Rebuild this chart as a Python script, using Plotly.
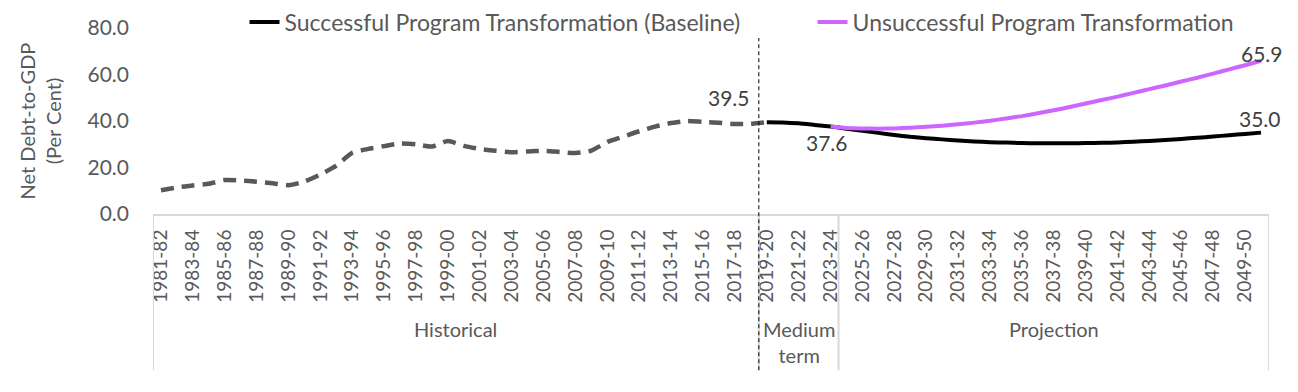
import plotly.graph_objects as go

# ---------------- data ----------------
start_years = list(range(1981, 2051))
categories = [f"{y}-{str(y + 1)[-2:]}" for y in start_years]  # 1981-82 .. 2050-51

hist_cats = categories[0:39]  # 1981-82 .. 2019-20
hist_vals = [10.2, 11.4, 12.3, 13.0, 14.6, 14.4, 13.9, 13.2, 12.4, 14.0,
             17.0, 20.8, 26.3, 28.0, 29.2, 30.3, 30.0, 29.0, 31.4, 29.3,
             28.0, 27.2, 26.6, 26.9, 27.2, 26.7, 26.2, 27.3, 31.0, 33.3,
             35.6, 37.6, 39.1, 40.0, 39.6, 39.3, 38.7, 38.8, 39.5]

base_cats = categories[38:]  # 2019-20 .. 2050-51
base_vals = [39.5, 39.4, 39.0, 38.3, 37.6, 36.7, 35.8, 34.9, 34.0, 33.2,
             32.6, 32.1, 31.6, 31.2, 30.9, 30.7, 30.5, 30.4, 30.4, 30.4,
             30.5, 30.6, 30.8, 31.1, 31.4, 31.8, 32.3, 32.8, 33.3, 33.9,
             34.4, 35.0]

unsucc_cats = categories[42:]  # 2023-24 .. 2050-51
unsucc_vals = [37.6, 37.0, 36.8, 36.7, 36.8, 37.1, 37.5, 38.0, 38.6, 39.3,
               40.1, 41.1, 42.1, 43.3, 44.6, 46.0, 47.5, 49.0, 50.5, 52.1,
               53.7, 55.3, 57.0, 58.6, 60.4, 62.2, 64.0, 65.9]

tick_vals = categories[::2]

group_names = ["Historical", "Medium<br>term", "Projection"]
group_first = ["1981-82", "2019-20", "2024-25"]
group_last = ["2018-19", "2023-24", "2050-51"]

# ---------------- styling ----------------
FONT = "Lato"
AXIS_COL = "#595959"
LABEL_COL = "#404040"
GRID_COL = "#D9D9D9"
PURPLE = "#CC66FF"

fig = go.Figure()

fig.add_trace(go.Scatter(
    x=hist_cats, y=hist_vals, mode="lines", showlegend=False,
    line=dict(color="#595959", width=4.5, dash="13px,8px", shape="spline", smoothing=0.6),
    hoverinfo="x+y"))

fig.add_trace(go.Scatter(
    x=base_cats, y=base_vals, mode="lines", legend="legend",
    name="Successful Program Transformation (Baseline)",
    line=dict(color="#000000", width=4, shape="spline", smoothing=0.6)))

fig.add_trace(go.Scatter(
    x=unsucc_cats, y=unsucc_vals, mode="lines", legend="legend2",
    name="Unsuccessful Program Transformation",
    line=dict(color=PURPLE, width=4, shape="spline", smoothing=0.6)))

idx = {c: i for i, c in enumerate(categories)}

shapes = []
# group boxes below the axis
bounds = [idx[f] - 0.5 for f in group_first] + [idx[group_last[-1]] + 0.5]
for b in bounds:
    shapes.append(dict(type="line", xref="x", yref="paper", x0=b, x1=b,
                       y0=0, y1=-0.84, line=dict(color=GRID_COL, width=2)))
# vertical dashed divider between historical and medium term
div = idx[group_first[1]] - 0.5
shapes.append(dict(type="line", xref="x", yref="paper", x0=div, x1=div,
                   y0=-0.84, y1=0.946, line=dict(color="#000000", width=1, dash="4px,3px")))

annotations = []
for name, f, l in zip(group_names, group_first, group_last):
    annotations.append(dict(x=(idx[f] + idx[l]) / 2, y=-0.545, xref="x", yref="paper",
                            text=name, showarrow=False, yanchor="top", xanchor="center",
                            font=dict(family=FONT, size=20, color=AXIS_COL)))

def label(cat, val, xshift, yshift, xanchor="center"):
    annotations.append(dict(x=cat, y=val, xref="x", yref="y", text=f"{val:.1f}",
                            showarrow=False, xanchor=xanchor, yanchor="middle",
                            xshift=xshift, yshift=yshift,
                            font=dict(family=FONT, size=21, color=LABEL_COL)))

label(hist_cats[-1], hist_vals[-1], -15, 25, xanchor="right")
label(base_cats[4], base_vals[4], -4, -16)
label(unsucc_cats[-1], unsucc_vals[-1], 1, 7)
label(base_cats[-1], base_vals[-1], -1, 14)

legend_common = dict(orientation="h", yanchor="middle",
                     font=dict(family=FONT, size=23, color=AXIS_COL),
                     bgcolor="rgba(0,0,0,0)")

fig.update_layout(
    width=1298, height=392,
    margin=dict(l=153, r=29, t=28, b=178, autoexpand=False),
    paper_bgcolor="white", plot_bgcolor="white",
    font=dict(family=FONT, color=AXIS_COL),
    shapes=shapes, annotations=annotations,
    legend=dict(legend_common, x=0.082, xanchor="left", y=1.032),
    legend2=dict(legend_common, x=0.591, xanchor="left", y=1.032),
    xaxis=dict(type="category", categoryorder="array", categoryarray=categories,
               range=[-0.5, len(categories) - 0.5],
               tickmode="array", tickvals=tick_vals, ticktext=tick_vals,
               tickangle=-90, ticks="", showgrid=False, zeroline=False,
               showline=True, linecolor=GRID_COL, linewidth=2,
               ticklabelstandoff=6, automargin=False,
               tickfont=dict(family=FONT, size=19, color=AXIS_COL)),
    yaxis=dict(range=[0, 80], dtick=20, tick0=0, tickformat=".1f",
               showgrid=False, zeroline=False, showline=False, ticks="",
               ticklabelstandoff=23, automargin=False,
               tickfont=dict(family=FONT, size=21, color=AXIS_COL),
               title=dict(text="Net Debt-to-GDP<br>(Per Cent)", standoff=20,
                          font=dict(family=FONT, size=20, color=AXIS_COL))),
)

fig.write_html("out.html", config={"displayModeBar": False},
               post_script="document.body.style.margin='0';document.body.style.padding='0';")
